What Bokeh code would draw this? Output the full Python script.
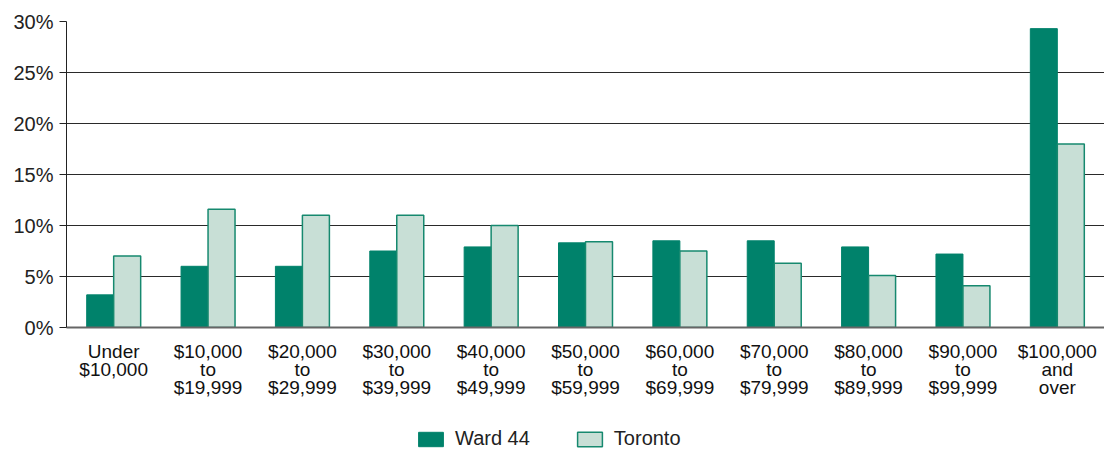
from bokeh.plotting import figure
from bokeh.layouts import column
from bokeh.models import ColumnDataSource, Legend, LegendItem, FixedTicker, PrintfTickFormatter
from bokeh.transform import dodge
from bokeh.embed import file_html
from bokeh.resources import INLINE

categories = ["Under\n$10,000", "$10,000\nto\n$19,999", "$20,000\nto\n$29,999",
              "$30,000\nto\n$39,999", "$40,000\nto\n$49,999", "$50,000\nto\n$59,999",
              "$60,000\nto\n$69,999", "$70,000\nto\n$79,999", "$80,000\nto\n$89,999",
              "$90,000\nto\n$99,999", "$100,000\nand\nover"]
ward44 = [3.2, 6.0, 6.0, 7.5, 7.9, 8.3, 8.5, 8.5, 7.9, 7.2, 29.3]
toronto = [7.0, 11.6, 11.0, 11.0, 10.0, 8.4, 7.5, 6.3, 5.1, 4.1, 18.0]
y_ticks = [0, 5, 10, 15, 20, 25, 30]
series_names = ["Ward 44", "Toronto"]

DARK = "#00826B"
LIGHT = "#C8DFD6"
EDGE = "#16896F"
FONT = "Liberation Sans"
W = 1104

src = ColumnDataSource(dict(cat=categories, ward=ward44, tor=toronto))

p = figure(x_range=categories, y_range=(0, 30), width=W, height=420,
           output_backend="svg", toolbar_location=None,
           min_border_left=66, min_border_right=0, min_border_top=21,
           min_border_bottom=93)
p.x_range.range_padding = 0

p.vbar(x=dodge("cat", -0.143, range=p.x_range), top="ward", width=0.286,
       source=src, fill_color=DARK, line_color=DARK, line_width=1)
p.vbar(x=dodge("cat", 0.143, range=p.x_range), top="tor", width=0.286,
       source=src, fill_color=LIGHT, line_color=EDGE, line_width=1.5)

p.outline_line_color = None
p.xgrid.grid_line_color = None
p.ygrid.grid_line_color = "#2a2a2a"
p.ygrid.grid_line_width = 1
p.yaxis.ticker = FixedTicker(ticks=y_ticks)
p.yaxis.formatter = PrintfTickFormatter(format="%d%%")
p.yaxis.axis_line_color = "#222222"
p.yaxis.major_tick_line_color = "#222222"
p.yaxis.major_tick_out = 7
p.yaxis.major_tick_in = 0
p.yaxis.minor_tick_line_color = None
p.yaxis.major_label_standoff = 6
p.yaxis.major_label_text_font = FONT
p.yaxis.major_label_text_font_size = "20px"
p.yaxis.major_label_text_color = "#222222"

p.xaxis.axis_line_color = "#666666"
p.xaxis.axis_line_width = 2
p.xaxis.major_tick_line_color = None
p.xaxis.minor_tick_line_color = None
p.xaxis.major_label_standoff = 7
p.xaxis.major_label_text_font = FONT
p.xaxis.major_label_text_font_size = "19px"
p.xaxis.major_label_text_line_height = 0.88
p.xaxis.major_label_text_color = "#111111"

# legend strip
lg = figure(width=W, height=31, x_range=(0, 1), y_range=(0, 1),
            output_backend="svg", toolbar_location=None,
            min_border_left=0, min_border_right=0, min_border_top=0, min_border_bottom=0)
lg.axis.visible = False
lg.grid.visible = False
lg.outline_line_color = None
dummy = ColumnDataSource(dict(x=[0.02], top=[0.5], bottom=[0.5]))
l1 = lg.vbar(x="x", top="top", bottom="bottom", width=0, source=dummy,
             fill_color=DARK, line_color=DARK)
l2 = lg.vbar(x="x", top="top", bottom="bottom", width=0, source=dummy,
             fill_color=LIGHT, line_color=EDGE, line_width=1.5)
legend = Legend(items=[LegendItem(label=series_names[0], renderers=[l1], index=0),
                       LegendItem(label=series_names[1], renderers=[l2], index=0)],
                orientation="horizontal", location=(349, 1),
                glyph_width=31, glyph_height=18, spacing=44, label_standoff=9,
                label_text_font=FONT, label_text_font_size="20px",
                label_text_color="#222222", border_line_color=None,
                background_fill_alpha=0, padding=0, margin=0)
lg.add_layout(legend, "center")

layout = column(p, lg, spacing=0)
open("out.html", "w").write(file_html(layout, INLINE))
